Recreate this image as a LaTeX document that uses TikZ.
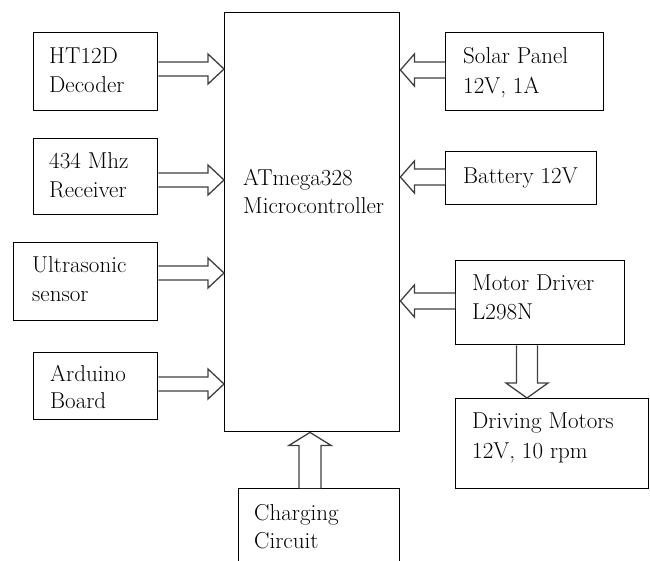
\documentclass[tikz,border=0pt]{standalone}
\usetikzlibrary{calc}
\tikzset{
  box/.style={draw=black, line width=1.4pt, fill=white, inner sep=0pt, anchor=north west},
  lbl/.style={font=\rmfamily\fontsize{23}{28}\selectfont, inner sep=0pt, anchor=base west, text=black},
  barrow/.style={draw=black!75, line width=1.3pt, fill=white},
  arrR/.style={to path={let \p1=(\tikztostart), \p2=(\tikztotarget) in
    (\x1,\y1+7pt) -- (\x2-16pt,\y1+7pt) -- (\x2-16pt,\y1+15pt) -- (\x2,\y1)
    -- (\x2-16pt,\y1-15pt) -- (\x2-16pt,\y1-7pt) -- (\x1,\y1-7pt)}},
  arrL/.style={to path={let \p1=(\tikztostart), \p2=(\tikztotarget) in
    (\x1,\y1+8pt) -- (\x2+14pt,\y1+8pt) -- (\x2+14pt,\y1+16pt) -- (\x2,\y1)
    -- (\x2+14pt,\y1-16pt) -- (\x2+14pt,\y1-8pt) -- (\x1,\y1-8pt)}},
  arrD/.style={to path={let \p1=(\tikztostart), \p2=(\tikztotarget) in
    (\x1+10.5pt,\y1) -- (\x1+10.5pt,\y2+15pt) -- (\x1+21pt,\y2+15pt) -- (\x1,\y2)
    -- (\x1-21pt,\y2+15pt) -- (\x1-10.5pt,\y2+15pt) -- (\x1-10.5pt,\y1)}},
  arrU/.style={to path={let \p1=(\tikztostart), \p2=(\tikztotarget) in
    (\x1+11pt,\y1) -- (\x1+11pt,\y2-13pt) -- (\x1+21pt,\y2-13pt) -- (\x1,\y2)
    -- (\x1-21pt,\y2-13pt) -- (\x1-11pt,\y2-13pt) -- (\x1-11pt,\y1)}},
}
\begin{document}
\begin{tikzpicture}[x=1pt,y=-1pt]
\clip (0,0) rectangle (650,560);
\fill[white] (0,0) rectangle (650,560);
% boxes
\node[box, minimum width=175pt, minimum height=419pt] (main) at (224,12) {};
\node[box, minimum width=124pt, minimum height=78pt] (ht) at (33,32) {};
\node[box, minimum width=124pt, minimum height=76pt] (rx) at (33,138) {};
\node[box, minimum width=144pt, minimum height=78pt] (us) at (13,242) {};
\node[box, minimum width=124pt, minimum height=67pt] (ar) at (33,352) {};
\node[box, minimum width=158pt, minimum height=78pt] (sp) at (445,32) {};
\node[box, minimum width=151pt, minimum height=53pt] (bt) at (445,151) {};
\node[box, minimum width=169pt, minimum height=84pt] (md) at (455,260) {};
\node[box, minimum width=193pt, minimum height=90pt] (dm) at (455,398) {};
\node[box, minimum width=161pt, minimum height=100pt] (ch) at (238,488) {};
% texts
\node[lbl] (t1a) at (49,63) {HT12D};
\node[lbl] (t1b) at (49,92) {Decoder};
\node[lbl] (t2a) at (49,168) {434 Mhz};
\node[lbl] (t2b) at (49,197) {Receiver};
\node[lbl] (t3a) at (32,272) {Ultrasonic};
\node[lbl] (t3b) at (32,301) {sensor};
\node[lbl] (t4a) at (50,381) {Arduino};
\node[lbl] (t4b) at (50,408) {Board};
\node[lbl] (tma) at (243,185) {ATmega328};
\node[lbl] (tmb) at (243,213) {Microcontroller};
\node[lbl] (t5a) at (463,63) {Solar Panel};
\node[lbl] (t5b) at (463,93) {12V, 1A};
\node[lbl] (t6) at (463,183) {Battery 12V};
\node[lbl] (t7a) at (472,290) {Motor Driver};
\node[lbl] (t7b) at (472,319) {L298N};
\node[lbl] (t8a) at (472,428) {Driving Motors};
\node[lbl] (t8b) at (472,458) {12V, 10 rpm};
\node[lbl] (t9a) at (254,520) {Charging};
\node[lbl] (t9b) at (254,548) {Circuit};
% arrows
\draw[barrow] (ht.east |- 0,69) to[arrR] (main.west |- 0,69);
\draw[barrow] (rx.east |- 0,180) to[arrR] (main.west |- 0,180);
\draw[barrow] (us.east |- 0,273) to[arrR] (main.west |- 0,273);
\draw[barrow] (ar.east |- 0,384) to[arrR] (main.west |- 0,384);
\draw[barrow] (sp.west |- 0,70) to[arrL] (main.east |- 0,70);
\draw[barrow] (bt.west |- 0,177) to[arrL] (main.east |- 0,177);
\draw[barrow] (md.west |- 0,301) to[arrL] (main.east |- 0,301);
\draw[barrow] (md.south -| 527,0) to[arrD] (dm.north -| 527,0);
\draw[barrow] (ch.north -| 310,0) to[arrU] (main.south -| 310,0);
\end{tikzpicture}
\end{document}
